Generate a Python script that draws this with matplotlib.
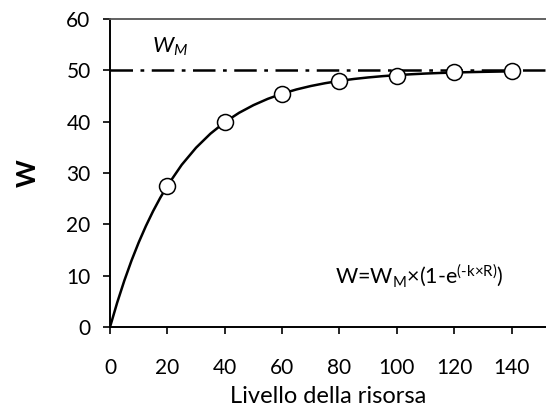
import matplotlib
matplotlib.use("Agg")
import matplotlib.pyplot as plt

# observed points
res_level = [20, 40, 60, 80, 100, 120, 140]
w_obs = [27.5, 40.0, 45.5, 48.0, 49.0, 49.6, 49.8]

# fitted curve values
curve_x = [0, 2.5, 5, 7.5, 10, 12.5, 15, 17.5, 20, 25, 30, 35, 40, 45, 50, 55, 60, 65, 70,
           75, 80, 85, 90, 95, 100, 105, 110, 115, 120, 125, 130, 135, 140]
curve_y = [0, 4.76, 9.06, 12.96, 16.48, 19.67, 22.56, 25.17, 27.53, 31.61, 34.94, 37.67,
           39.91, 41.74, 43.23, 44.46, 45.46, 46.29, 46.96, 47.51, 47.96, 48.33, 48.63,
           48.88, 49.08, 49.25, 49.39, 49.50, 49.59, 49.66, 49.72, 49.77, 49.82]

w_max = 50
x_ticks = [0, 20, 40, 60, 80, 100, 120, 140]
y_ticks = [0, 10, 20, 30, 40, 50, 60]

plt.rcParams['font.family'] = ['Lato', 'DejaVu Sans']
plt.rcParams['mathtext.fontset'] = 'custom'
plt.rcParams['mathtext.rm'] = 'Lato'
plt.rcParams['mathtext.it'] = 'Lato:italic'
plt.rcParams['mathtext.bf'] = 'Lato:bold'

fig = plt.figure(figsize=(5.46, 4.15), dpi=100)
ax = fig.add_axes([0.2015, 0.212, 0.7985, 0.742])

ax.axhline(w_max, color='black', lw=1.8, dashes=(9, 3, 1.5, 3), zorder=1)
ax.plot(curve_x, curve_y, color='black', lw=1.8, zorder=2)
ax.plot(res_level, w_obs, 'o', ms=11.5, mfc='white', mec='black', mew=1.1, zorder=3)

ax.set_xlim(0, 152)
ax.set_ylim(0, 60)
ax.set_xticks(x_ticks)
ax.set_yticks(y_ticks)
ax.tick_params(direction='out', length=5, width=1.2, labelsize=15, colors='black', pad=9)
ax.tick_params(axis='x', pad=17)

ax.spines['right'].set_visible(False)
ax.spines['top'].set_color('#555555')
ax.spines['top'].set_linewidth(1.3)
for s in ['left', 'bottom']:
    ax.spines[s].set_linewidth(1.4)

ax.set_xlabel('Livello della risorsa', fontsize=17, labelpad=6)
ax.set_ylabel('W', fontsize=19, fontweight='bold', labelpad=19)

ax.text(21, 54.6, r'$W_M$', fontsize=16, ha='center', va='center')
ax.text(108, 10, 'W=W$_\\mathregular{M}$×(1\u2010e$^{\\mathregular{(\u2010k×R)}}$)',
        fontsize=15.5, ha='center', va='center')

fig.savefig('out.png', dpi=100)
